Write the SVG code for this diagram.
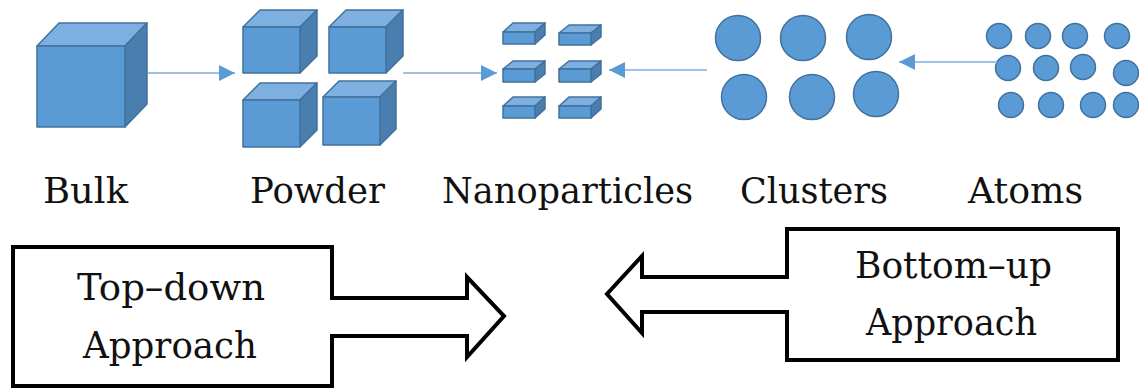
<svg xmlns="http://www.w3.org/2000/svg" width="1139" height="390" viewBox="0 0 1139 390">
<defs>
<style>
.front{fill:#5B9BD5;stroke:#41719C;stroke-width:1.5;stroke-linejoin:round}
.top{fill:#7DB0E0;stroke:#41719C;stroke-width:1.5;stroke-linejoin:round}
.side{fill:#4A7EAE;stroke:#41719C;stroke-width:1.5;stroke-linejoin:round}
.dot{fill:#5B9BD5;stroke:#41719C;stroke-width:1.5}
.lbl{font-family:"DejaVu Serif","Liberation Serif",serif;font-size:35px;fill:#111}
.btxt{font-family:"DejaVu Serif","Liberation Serif",serif;font-size:37px;fill:#111}
.conn{stroke:#9DC3E6;stroke-width:2;fill:none}
.big{fill:#fff;stroke:#000;stroke-width:4;stroke-linejoin:miter}
</style>
<marker id="ah" markerUnits="userSpaceOnUse" markerWidth="16" markerHeight="16" viewBox="0 0 14 14" refX="14" refY="7" orient="auto">
<path d="M0,0 L14,7 L0,14 Z" fill="#5B9BD5"/>
</marker>
</defs>

<g id="bulk">
<polygon class="top" points="37,46 59,23 147,23 125,46"/>
<polygon class="side" points="125,46 147,23 147,104 125,127"/>
<rect class="front" x="37" y="46" width="88" height="81"/>
</g>

<g id="powder">
<polygon class="top" points="243,27 260,10 317,10 300,27"/>
<polygon class="side" points="300,27 317,10 317,56 300,73"/>
<rect class="front" x="243" y="27" width="57" height="46"/>
<polygon class="top" points="329,27 346,10 403,10 386,27"/>
<polygon class="side" points="386,27 403,10 403,56 386,73"/>
<rect class="front" x="329" y="27" width="57" height="46"/>
<polygon class="top" points="243,100 260,83 317,83 300,100"/>
<polygon class="side" points="300,100 317,83 317,130 300,147"/>
<rect class="front" x="243" y="100" width="57" height="47"/>
<polygon class="top" points="323,97 339,81 396,81 380,97"/>
<polygon class="side" points="380,97 396,81 396,129 380,145"/>
<rect class="front" x="323" y="97" width="57" height="48"/>
</g>

<g id="nanoparticles">
<polygon class="top" points="503,32 513,23 545,23 535,32"/>
<polygon class="side" points="535,32 545,23 545,35 535,44"/>
<rect class="front" x="503" y="32" width="32" height="12"/>
<polygon class="top" points="559,33 569,25 601,25 591,33"/>
<polygon class="side" points="591,33 601,25 601,37 591,45"/>
<rect class="front" x="559" y="33" width="32" height="12"/>
<polygon class="top" points="503,69 513,61 545,61 535,69"/>
<polygon class="side" points="535,69 545,61 545,74 535,82"/>
<rect class="front" x="503" y="69" width="32" height="13"/>
<polygon class="top" points="559,69 569,61 601,61 591,69"/>
<polygon class="side" points="591,69 601,61 601,74 591,82"/>
<rect class="front" x="559" y="69" width="32" height="13"/>
<polygon class="top" points="503,106 513,97 545,97 535,106"/>
<polygon class="side" points="535,106 545,97 545,109 535,118"/>
<rect class="front" x="503" y="106" width="32" height="12"/>
<polygon class="top" points="559,106 569,97 601,97 591,106"/>
<polygon class="side" points="591,106 601,97 601,109 591,118"/>
<rect class="front" x="559" y="106" width="32" height="12"/>
</g>

<g id="clusters">
<circle class="dot" cx="738" cy="38" r="22.5"/>
<circle class="dot" cx="803" cy="38" r="22.5"/>
<circle class="dot" cx="869" cy="37" r="22.5"/>
<circle class="dot" cx="744" cy="97" r="22.5"/>
<circle class="dot" cx="812" cy="97" r="22.5"/>
<circle class="dot" cx="876" cy="94" r="22.5"/>
</g>

<g id="atoms">
<circle class="dot" cx="999" cy="36" r="12.5"/>
<circle class="dot" cx="1038" cy="36" r="12.5"/>
<circle class="dot" cx="1075" cy="36" r="12.5"/>
<circle class="dot" cx="1117" cy="36" r="12.5"/>
<circle class="dot" cx="1008" cy="68" r="12.5"/>
<circle class="dot" cx="1046" cy="68" r="12.5"/>
<circle class="dot" cx="1083" cy="67" r="12.5"/>
<circle class="dot" cx="1126" cy="73" r="12.5"/>
<circle class="dot" cx="1011" cy="105" r="12.5"/>
<circle class="dot" cx="1051" cy="105" r="12.5"/>
<circle class="dot" cx="1093" cy="105" r="12.5"/>
<circle class="dot" cx="1126" cy="105" r="12.5"/>
</g>

<g id="connectors">
<line class="conn" x1="148" y1="73" x2="235" y2="73" marker-end="url(#ah)"/>
<line class="conn" x1="403" y1="73" x2="497" y2="73" marker-end="url(#ah)"/>
<line class="conn" x1="707" y1="70" x2="609" y2="70" marker-end="url(#ah)"/>
<line class="conn" x1="997" y1="62" x2="899" y2="62" marker-end="url(#ah)"/>
</g>

<g id="labels">
<text class="lbl" x="43" y="203" textLength="85" lengthAdjust="spacingAndGlyphs">Bulk</text>
<text class="lbl" x="250" y="203" textLength="135" lengthAdjust="spacingAndGlyphs">Powder</text>
<text class="lbl" x="442" y="203" textLength="251" lengthAdjust="spacingAndGlyphs">Nanoparticles</text>
<text class="lbl" x="740" y="203" textLength="148" lengthAdjust="spacingAndGlyphs">Clusters</text>
<text class="lbl" x="968" y="203" textLength="115" lengthAdjust="spacingAndGlyphs">Atoms</text>
</g>

<g id="top-down">
<path class="big" d="M13,247 H332 V298 H467 V277 L504,316 L467,357 V336 H332 V386 H13 Z"/>
<text class="btxt" x="77" y="300" textLength="188" lengthAdjust="spacingAndGlyphs">Top–down</text>
<text class="btxt" x="83" y="358" textLength="174" lengthAdjust="spacingAndGlyphs">Approach</text>
</g>

<g id="bottom-up">
<path class="big" d="M1118,229 V360 H787 V312 H642 V333 L607,294 L642,256 V277 H787 V229 Z"/>
<text class="btxt" x="855" y="278" textLength="197" lengthAdjust="spacingAndGlyphs">Bottom–up</text>
<text class="btxt" x="866" y="335" textLength="171" lengthAdjust="spacingAndGlyphs">Approach</text>
</g>
</svg>
